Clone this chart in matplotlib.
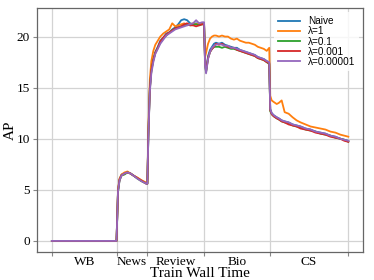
import matplotlib
matplotlib.use("Agg")
import matplotlib.pyplot as plt
import numpy as np

# task segments (wall-time boundaries) and their labels
tasks = ["WB", "News", "Review", "Bio", "CS"]
bounds = [0, 65, 96, 153, 219, 298]

# sampled wall time
t = [0, 65,
     66.5, 68, 70, 73, 76, 79, 82, 86, 90, 95,
     96, 97, 98.5, 100, 102, 104, 106.5, 109, 112, 115, 118, 121, 124, 127,
     130, 133, 136, 139, 142, 145, 148, 151, 153,
     154, 155, 157, 159, 161, 163, 165, 168, 171, 174, 177, 180, 183, 186,
     189, 192, 195, 198, 201, 204, 207, 210, 213, 216, 218.5,
     219.5, 221, 223, 226, 228, 231, 234, 238, 242, 246, 250, 255, 260, 265,
     270, 275, 280, 285, 290, 294, 298]

naive = [0, 0,
         4.9, 6.0, 6.5, 6.6, 6.7, 6.6, 6.4, 6.15, 5.9, 5.65,
         5.6, 10.5, 15.0, 16.8, 17.8, 18.5, 19.0, 19.6, 19.9, 20.3, 20.4, 20.7,
         20.9, 21.2, 21.6, 21.7, 21.6, 21.3, 21.2, 21.3, 21.2, 21.3, 21.3,
         17.5, 16.6, 18.1, 18.7, 19.0, 19.3, 19.4, 19.3, 19.4, 19.2, 19.1, 19.0,
         18.9, 18.9, 18.7, 18.6, 18.5, 18.4, 18.3, 18.2, 18.0, 17.9, 17.8, 17.6, 17.4,
         12.9, 12.5, 12.3, 12.1, 12.0, 11.8, 11.7, 11.6, 11.4, 11.3, 11.2, 11.0,
         10.9, 10.7, 10.6, 10.5, 10.3, 10.2, 10.0, 9.9, 9.8]

lam_1 = [0, 0,
         5.0, 6.1, 6.5, 6.7, 6.8, 6.6, 6.4, 6.2, 5.95, 5.7,
         5.7, 11.0, 15.8, 17.6, 18.6, 19.2, 19.6, 20.0, 20.3, 20.5, 20.7, 21.3,
         21.0, 21.1, 21.2, 21.3, 21.1, 21.2, 21.3, 21.2, 21.3, 21.3, 21.3,
         18.0, 18.4, 19.3, 19.8, 20.0, 20.1, 20.1, 20.0, 20.1, 20.0, 20.0, 19.8,
         19.7, 19.8, 19.6, 19.5, 19.4, 19.4, 19.3, 19.2, 19.0, 18.9, 18.8, 18.6, 18.9,
         14.2, 13.75, 13.6, 13.4, 13.5, 13.75, 12.6, 12.45, 12.1, 11.8, 11.6, 11.4,
         11.2, 11.1, 11.0, 10.9, 10.7, 10.6, 10.4, 10.3, 10.2]

lam_01 = [0, 0,
          4.8, 5.9, 6.4, 6.5, 6.7, 6.6, 6.4, 6.1, 5.85, 5.6,
          5.6, 10.3, 14.8, 16.6, 17.7, 18.4, 18.9, 19.4, 19.8, 20.1, 20.4, 20.6,
          20.8, 20.9, 21.0, 21.1, 21.2, 21.1, 21.2, 21.2, 21.1, 21.2, 21.2,
          17.4, 16.5, 17.9, 18.5, 18.8, 19.0, 19.0, 19.0, 18.9, 19.0, 18.9, 18.8,
          18.8, 18.7, 18.6, 18.5, 18.4, 18.3, 18.2, 18.1, 17.9, 17.8, 17.7, 17.5, 17.3,
          12.7, 12.4, 12.2, 12.0, 11.9, 11.7, 11.6, 11.5, 11.3, 11.2, 11.1, 10.9,
          10.8, 10.7, 10.5, 10.4, 10.3, 10.1, 10.0, 9.9, 9.7]

lam_0001 = [0, 0,
            4.9, 6.0, 6.4, 6.6, 6.7, 6.6, 6.4, 6.15, 5.9, 5.6,
            5.6, 10.4, 14.9, 16.7, 17.7, 18.4, 18.9, 19.5, 19.9, 20.2, 20.4, 20.6,
            20.8, 20.9, 21.0, 21.2, 21.3, 21.1, 21.1, 21.0, 21.1, 21.2, 21.2,
            17.4, 16.6, 17.9, 18.5, 18.8, 19.0, 19.3, 19.2, 19.3, 19.1, 19.0, 18.9,
            18.9, 18.7, 18.6, 18.5, 18.4, 18.3, 18.2, 18.1, 17.9, 17.8, 17.7, 17.5, 17.4,
            12.8, 12.4, 12.2, 12.0, 11.9, 11.7, 11.6, 11.4, 11.3, 11.2, 11.0, 10.9,
            10.8, 10.6, 10.5, 10.4, 10.2, 10.1, 10.0, 9.8, 9.7]

lam_000001 = [0, 0,
              4.8, 5.9, 6.4, 6.6, 6.7, 6.6, 6.4, 6.1, 5.85, 5.6,
              5.6, 10.2, 14.6, 16.4, 17.5, 18.3, 18.8, 19.3, 19.7, 20.1, 20.3, 20.5,
              20.7, 20.8, 20.9, 21.0, 21.1, 21.2, 21.3, 21.6, 21.3, 21.4, 21.4,
              17.2, 16.4, 17.8, 18.5, 18.9, 19.1, 19.2, 19.3, 19.2, 19.1, 19.1, 18.9,
              18.9, 18.8, 18.7, 18.6, 18.5, 18.4, 18.3, 18.2, 18.0, 17.9, 17.8, 17.6, 17.5,
              12.9, 12.5, 12.3, 12.1, 12.0, 11.8, 11.7, 11.6, 11.4, 11.3, 11.2, 11.0,
              10.9, 10.7, 10.6, 10.5, 10.3, 10.2, 10.0, 9.9, 9.8]

series = [naive, lam_1, lam_01, lam_0001, lam_000001]
labels = ["Naive", "\u03bb=1", "\u03bb=0.1", "\u03bb=0.001", "\u03bb=0.00001"]

fig = plt.figure(figsize=(3.74, 2.80), dpi=100)
ax = fig.add_axes([0.099, 0.1, 0.872, 0.871])

for vals, lab in zip(series, labels):
    ax.plot(t, vals, lw=1.3, label=lab)

# boundaries as major ticks (grid + small marks), task names centred between
ax.set_xticks(bounds)
ax.set_xticklabels([])
centers = [(a + b) / 2 for a, b in zip(bounds[:-1], bounds[1:])]
ax.set_xticks(centers, minor=True)
ax.set_xticklabels(tasks, minor=True, family="Liberation Serif", fontsize=9.5)
ax.tick_params(axis="x", which="minor", length=0, pad=3)
ax.tick_params(axis="x", which="major", length=3, color="#888888")
ax.set_yticks([0, 5, 10, 15, 20])
ax.tick_params(axis="y", length=3, color="#888888", pad=2)
for lbl in ax.get_yticklabels():
    lbl.set_family("Liberation Serif")
    lbl.set_fontsize(9.5)

ax.grid(True, which="major", color="#d3d3d3", lw=0.9)
ax.set_axisbelow(True)
for sp in ax.spines.values():
    sp.set_color("#666666")
    sp.set_linewidth(0.9)

ax.set_xlabel("Train Wall Time", family="Liberation Serif", fontsize=11, labelpad=-1)
ax.set_ylabel("AP", family="Liberation Serif", fontsize=11, labelpad=0)

leg = ax.legend(loc="upper right", fontsize=7.2, frameon=True, edgecolor="none",
                facecolor="white", framealpha=0.8, labelspacing=0.02,
                handlelength=2.2, borderaxespad=0.4)
for txt in leg.get_texts():
    txt.set_family("Liberation Sans")

fig.savefig("out.png", dpi=100)
